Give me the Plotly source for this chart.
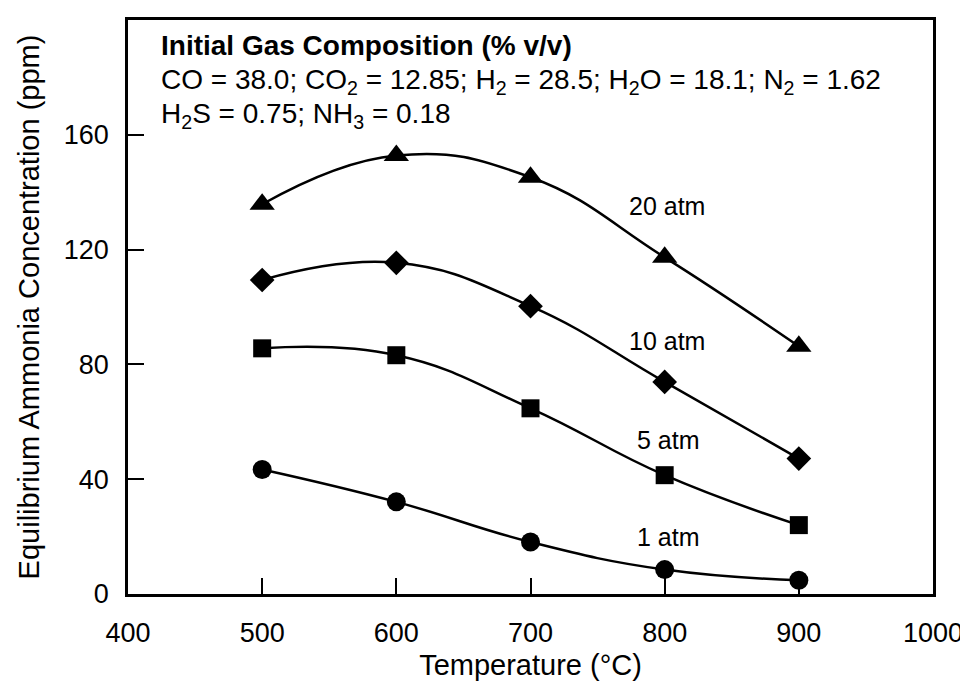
import plotly.graph_objects as go

temperature = [500, 600, 700, 800, 900]
atm20 = [135.8, 152.8, 145.2, 117.3, 86.3]
atm10 = [109.4, 115.4, 100.3, 73.9, 47.2]
atm5 = [85.6, 83.2, 64.7, 41.4, 24.0]
atm1 = [43.4, 32.1, 18.1, 8.5, 4.8]

series = [
    ("20 atm", atm20, "triangle-up", 22),
    ("10 atm", atm10, "diamond", 19),
    ("5 atm", atm5, "square", 18),
    ("1 atm", atm1, "circle", 19),
]
label_pos = {"20 atm": (802, 135.2), "10 atm": (802, 88.1), "5 atm": (803, 53.8), "1 atm": (803, 19.7)}

FONT = "Liberation Sans, Arial, Helvetica, sans-serif"

fig = go.Figure()
for name, vals, sym, size in series:
    fig.add_trace(go.Scatter(
        x=temperature, y=vals, name=name, mode="lines+markers",
        line=dict(color="black", width=2.5, shape="spline", smoothing=1.25),
        marker=dict(symbol=sym, size=size, color="black", line=dict(width=0)),
        showlegend=False,
    ))
    lx, ly = label_pos[name]
    fig.add_annotation(x=lx, y=ly, text=name, showarrow=False,
                       font=dict(size=25, color="black", family=FONT),
                       xanchor="center", yanchor="middle")

header_lines = [
    "<b>Initial Gas Composition (% v/v)</b>",
    "CO = 38.0; CO<sub>2</sub> = 12.85; H<sub>2</sub> = 28.5; H<sub>2</sub>O = 18.1; N<sub>2</sub> = 1.62",
    "H<sub>2</sub>S = 0.75; NH<sub>3</sub> = 0.18",
]
header_y = [0.956, 0.892, 0.834]
for txt, yy in zip(header_lines, header_y):
    fig.add_annotation(x=0.039, y=yy, xref="paper", yref="paper", text=txt,
                       showarrow=False, xanchor="left", yanchor="middle",
                       font=dict(size=28, color="black", family=FONT))

# page body has an 8px default margin, so the figure is sized to fit the 968x685 window
fig.update_layout(
    width=960, height=677,
    margin=dict(l=120, r=35, t=12, b=91),
    plot_bgcolor="white", paper_bgcolor="white",
    font=dict(family=FONT, color="black", size=26),
)
fig.update_xaxes(
    range=[400, 1000], tickvals=[400, 500, 600, 700, 800, 900, 1000],
    ticks="inside", ticklen=16, tickwidth=2, tickcolor="black",
    showline=True, linecolor="black", linewidth=2.5, mirror=True,
    showgrid=False, zeroline=False, automargin=False,
    tickfont=dict(size=27, family=FONT), ticklabelstandoff=13,
    title=dict(text="Temperature (°C)", font=dict(size=29, family=FONT), standoff=8),
)
fig.update_yaxes(
    range=[0, 200], tickvals=[0, 40, 80, 120, 160],
    ticks="inside", ticklen=16, tickwidth=2, tickcolor="black",
    showline=True, linecolor="black", linewidth=2.5, mirror=True,
    showgrid=False, zeroline=False, automargin=False,
    tickfont=dict(size=27, family=FONT), ticklabelstandoff=11,
    title=dict(text="Equilibrium Ammonia Concentration (ppm)", font=dict(size=29, family=FONT), standoff=16),
)

fig.write_html("out.html")
